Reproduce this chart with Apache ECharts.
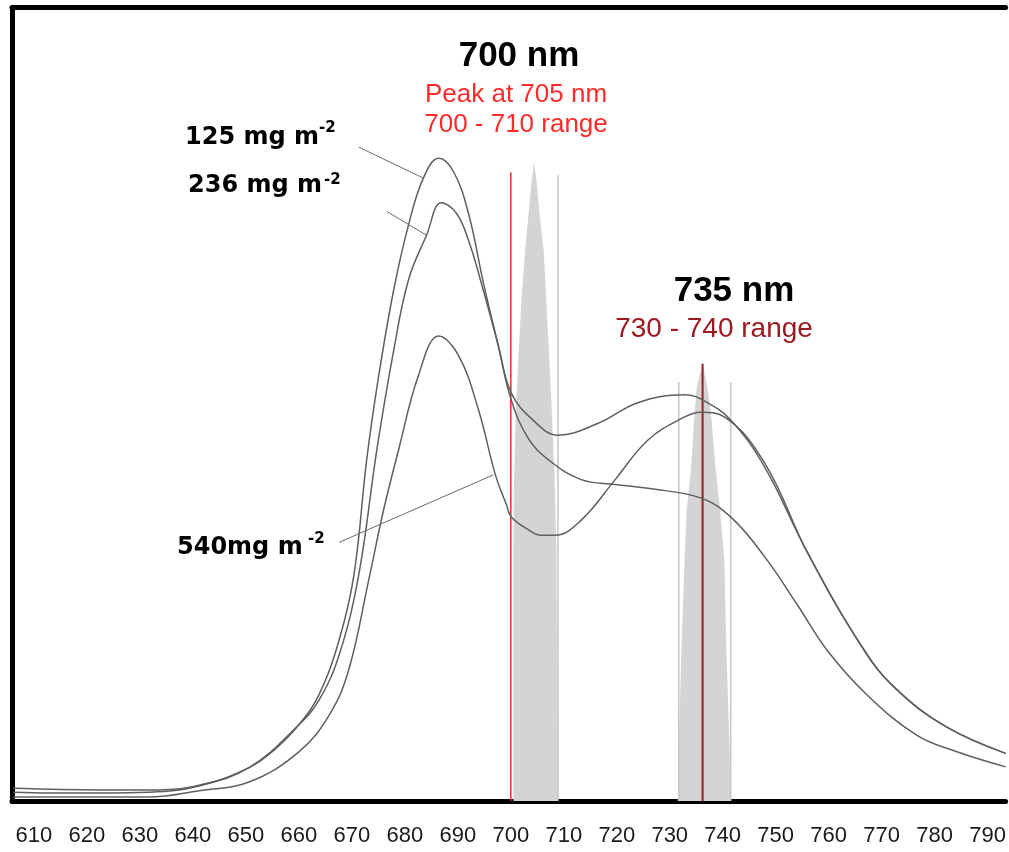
<!DOCTYPE html>
<html><head><meta charset="utf-8">
<script src="https://cdn.jsdelivr.net/npm/echarts@6/dist/echarts.min.js"></script>
<style>html,body{margin:0;padding:0;background:#fff}#c{width:1009px;height:852px}</style>
</head><body><div id="c"></div>
<script>
// Wavelength tick labels (nm)
const xTickLabels = [610,620,630,640,650,660,670,680,690,700,710,720,730,740,750,760,770,780,790];

// Spectra: [wavelength nm, relative intensity]
const curve125 = [[606.1,1.1],[613.0,1.0],[622.4,1.0],[631.8,1.1],[641.2,1.9],[650.6,4.2],[655.3,6.4],[660.0,9.6],[663.8,13.4],[667.6,20.3],[670.4,28.5],[672.8,43.0],[675.1,53.7],[677.9,64.4],[680.7,72.6],[683.5,78.5],[686.4,81.0],[689.2,79.3],[692.0,74.1],[694.8,65.4],[697.6,57.5],[700.1,50.5],[703.3,45.7],[707.1,43.0],[713.3,40.5],[719.7,39.9],[725.9,39.4],[735.8,38.2],[741.5,35.8],[747.9,30.8],[754.1,24.7],[759.7,19.0],[767.2,13.4],[776.6,8.3],[784.2,6.2],[793.4,4.3]];
const curve236 = [[606.1,1.6],[622.4,1.4],[631.8,1.4],[641.2,2.0],[650.6,4.2],[660.0,9.6],[663.8,12.7],[667.6,18.4],[671.3,28.5],[674.7,44.2],[677.9,56.8],[680.7,65.7],[684.1,71.3],[686.9,75.4],[689.7,74.1],[692.0,70.7],[694.8,64.4],[697.6,57.5],[700.1,51.4],[704.2,48.0],[708.9,46.1],[716.5,47.6],[724.0,50.2],[732.8,51.2],[736.6,50.4],[741.5,48.0],[747.9,42.1],[756.0,31.3],[766.7,19.0],[772.9,14.0],[782.3,9.3],[793.4,6.0]];
const curve540 = [[606.1,0.5],[622.4,0.5],[631.8,0.5],[641.2,1.3],[650.6,2.4],[660.0,6.2],[665.7,10.8],[669.4,16.5],[673.2,27.9],[676.0,36.7],[678.8,44.2],[682.6,53.7],[686.4,58.6],[690.1,56.2],[693.9,49.3],[697.1,41.1],[699.2,37.3],[700.1,35.8],[703.3,34.2],[705.7,33.5],[708.4,33.5],[713.3,35.4],[719.7,40.5],[725.9,45.5],[732.8,48.4],[735.8,49.0],[740.3,48.4],[747.9,42.6],[756.0,31.3],[766.7,19.0],[772.9,14.0],[782.3,9.3],[793.4,6.0]];

// Filter bands (grey spikes)
const band700 = [[700.5,0],[700.5,31.6],[700.6,40.1],[700.9,48.4],[701.5,56.8],[702.0,63.1],[702.7,69.4],[703.3,73.6],[703.9,77.9],[704.4,80.5],[704.9,77.9],[705.5,73.6],[706.2,69.4],[706.7,63.1],[707.2,56.8],[707.8,48.4],[708.3,40.1],[708.6,31.6],[708.9,0]];
const band735 = [[731.5,0],[731.7,6.4],[732.2,19.0],[732.8,30.4],[733.2,36.7],[734.0,41.7],[734.2,43.9],[734.6,48.0],[735.1,52.2],[736.2,55.1],[737.1,52.2],[737.9,48.0],[738.4,43.9],[738.7,41.7],[739.5,36.7],[740.3,30.4],[740.7,19.0],[741.3,6.4],[741.5,0]];

// Vertical marker lines [wavelength, top]
const redLine700 = [700.0, 79.2];
const greyLine710 = [708.9, 78.9];
const greyLines735 = [[731.7, 52.8],[741.5, 52.8]];
const darkRedLine735 = [736.2, 55.1];

// Leader lines for labels
const leader125 = [[671.3,82.4],[683.5,78.5]];
const leader236 = [[676.6,74.3],[684.1,71.3]];
const leader540 = [[667.6,32.6],[696.7,41.1]];

const FONT = '"Liberation Sans", Arial, sans-serif';
const vline = (p, color, w, z) => ({type:'line', data:[[p[0],0],[p[0],p[1]]], symbol:'none', silent:true, z:z,
  lineStyle:{color:color, width:w}, animation:false});
const curve = (d) => ({type:'line', data:d, symbol:'none', smooth:0.4, z:5,
  lineStyle:{color:'#5c615c', width:1.5}, animation:false});
const leader = (d) => ({type:'line', data:d, symbol:'none', z:6, lineStyle:{color:'#6a6a6a', width:1}, animation:false});
const band = (d) => ({type:'line', data:d, symbol:'none', z:1, lineStyle:{width:0, color:'#d4d4d4'},
  areaStyle:{color:'#d4d4d4', opacity:1}, animation:false});

const chart = echarts.init(document.getElementById('c'), null, {renderer:'canvas'});
chart.setOption({
  animation:false,
  grid:{left:12, right:0, top:7.5, bottom:51, containLabel:false},
  xAxis:[{
    type:'value', min:605.86, max:793.39, position:'bottom',
    axisLine:{show:true, onZero:false, lineStyle:{color:'#000', width:5}},
    axisTick:{show:false}, splitLine:{show:false},
    axisLabel:{show:true, customValues:xTickLabels, margin:24, fontSize:22, color:'#1a1a1a', fontFamily:FONT}
  },{
    type:'value', min:605.86, max:793.39, position:'top',
    axisLine:{show:true, onZero:false, lineStyle:{color:'#000', width:5}},
    axisTick:{show:false}, splitLine:{show:false}, axisLabel:{show:false}
  }],
  yAxis:{type:'value', min:0, max:100,
    axisLine:{show:true, onZero:false, lineStyle:{color:'#000', width:5}},
    axisTick:{show:false}, splitLine:{show:false}, axisLabel:{show:false}},
  series:[
    band(band700), band(band735),
    vline(greyLine710,'#c6c6c6',1.5,2), vline(greyLines735[0],'#c6c6c6',1.5,2), vline(greyLines735[1],'#c6c6c6',1.5,2),
    vline(redLine700,'#ee2c2c',1.5,3), vline(darkRedLine735,'#9a1c1c',2,3),
    curve(curve125), curve(curve236), curve(curve540),
    leader(leader125), leader(leader236), leader(leader540)
  ],
  graphic:[
    {type:'text', x:519, y:56, style:{text:'700 nm', font:'bold 35px '+FONT, fill:'#000', align:'center', verticalAlign:'middle'}},
    {type:'text', x:516, y:95, style:{text:'Peak at 705 nm', font:'26px '+FONT, fill:'#ff2b2b', align:'center', verticalAlign:'middle'}},
    {type:'text', x:516, y:125, style:{text:'700 - 710 range', font:'26px '+FONT, fill:'#ff2b2b', align:'center', verticalAlign:'middle'}},
    {type:'text', x:734, y:291, style:{text:'735 nm', font:'bold 35px '+FONT, fill:'#000', align:'center', verticalAlign:'middle'}},
    {type:'text', x:714, y:329, style:{text:'730 - 740 range', font:'28px '+FONT, fill:'#9b1b22', align:'center', verticalAlign:'middle'}},
    {type:'text', x:185, y:138, style:{text:'125 mg m', font:'bold 24px "DejaVu Sans"', fill:'#000', align:'left', verticalAlign:'middle'}},
    {type:'text', x:319, y:128, style:{text:'-2', font:'bold 15px "DejaVu Sans"', fill:'#000', align:'left', verticalAlign:'middle'}},
    {type:'text', x:188, y:186, style:{text:'236 mg m', font:'bold 24px "DejaVu Sans"', fill:'#000', align:'left', verticalAlign:'middle'}},
    {type:'text', x:324, y:180, style:{text:'-2', font:'bold 15px "DejaVu Sans"', fill:'#000', align:'left', verticalAlign:'middle'}},
    {type:'text', x:177, y:548, style:{text:'540mg m', font:'bold 24px "DejaVu Sans"', fill:'#000', align:'left', verticalAlign:'middle'}},
    {type:'text', x:308, y:539, style:{text:'-2', font:'bold 15px "DejaVu Sans"', fill:'#000', align:'left', verticalAlign:'middle'}}
  ]
});
</script></body></html>
